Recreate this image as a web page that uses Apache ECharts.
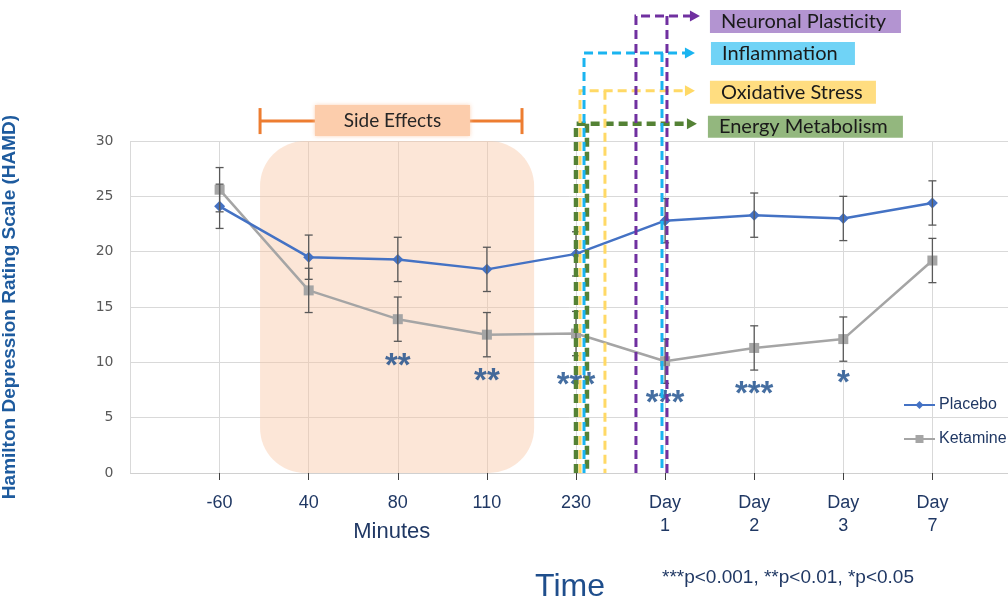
<!DOCTYPE html>
<html><head><meta charset="utf-8">
<script src="https://cdn.jsdelivr.net/npm/echarts@6/dist/echarts.min.js"></script>
<style>html,body{margin:0;padding:0;background:#fff}#c{width:1008px;height:601px}</style>
</head><body><div id="c"></div>
<script>
// ---- data ----
const categories = ['-60','40','80','110','230','Day\n1','Day\n2','Day\n3','Day\n7'];
const yTicks = [0,5,10,15,20,25,30];
const placebo  = [24.1,19.5,19.3,18.4,19.8,22.8,23.3,23.0,24.4];
const ketamine = [25.6,16.5,13.9,12.5,12.6,10.1,11.3,12.1,19.2];
const placeboErr  = [2,2,2,2,2,2,2,2,2];
const ketamineErr = [2,2,2,2,2,2,2,2,2];
const starCats   = ['80','110','230','Day\n1','Day\n2','Day\n3'];
const starTexts  = ['**','**','***','***','***','*'];
const starValues = [9.62,8.27,7.91,6.28,7.09,8.09];

// ---- build ----
const axisData = [' '].concat(categories, ['  ']);
const idx = c => axisData.indexOf(c);
const FONT = "'Liberation Sans', Arial, sans-serif";

function errSeries(name, vals, errs, color) {
  return {
    name: name, type: 'custom', z: 6, silent: true,
    data: vals.map((v, i) => [i + 1, v - errs[i], v + errs[i]]),
    encode: { x: 0, y: [1, 2] },
    renderItem: (params, api) => {
      const x = api.value(0);
      const lo = api.coord([x, api.value(1)]);
      const hi = api.coord([x, api.value(2)]);
      const w = 4, st = { stroke: color, lineWidth: 1.3 };
      return { type: 'group', children: [
        { type: 'line', shape: { x1: lo[0], y1: lo[1], x2: hi[0], y2: hi[1] }, style: st },
        { type: 'line', shape: { x1: lo[0]-w, y1: lo[1], x2: lo[0]+w, y2: lo[1] }, style: st },
        { type: 'line', shape: { x1: hi[0]-w, y1: hi[1], x2: hi[0]+w, y2: hi[1] }, style: st }
      ]};
    }
  };
}

const chart = echarts.init(document.getElementById('c'), null, { renderer: 'canvas' });
chart.setOption({
  animation: false,
  backgroundColor: '#fff',
  grid: { left: 130.5, top: 141, bottom: 128, right: -13.5, containLabel: false, outerBoundsMode: 'none' },
  legend: {
    data: ['Placebo', 'Ketamine'], orient: 'vertical', left: 903, top: 397, padding: 0,
    itemWidth: 31, itemHeight: 10, itemGap: 18,
    textStyle: { fontFamily: FONT, fontSize: 16, color: '#203864', padding: [0,0,0,-1] }
  },
  xAxis: {
    type: 'category', data: axisData, boundaryGap: false,
    axisLine: { lineStyle: { color: '#d0d0d0', width: 1 } },
    axisTick: { show: true, length: 7, lineStyle: { color: '#404040' }, interval: (i) => i > 0 && i < axisData.length - 1 },
    axisLabel: { interval: 0, margin: 19, fontFamily: FONT, fontSize: 18, color: '#203864', lineHeight: 23 },
    splitLine: { show: true, interval: 0, lineStyle: { color: '#d9d9d9', width: 1 } }
  },
  yAxis: {
    type: 'value', min: yTicks[0], max: yTicks[yTicks.length-1], interval: yTicks[1]-yTicks[0],
    name: 'Hamilton Depression Rating Scale (HAMD)', nameLocation: 'middle', nameGap: 111, nameRotate: 90,
    nameTextStyle: { fontFamily: FONT, fontSize: 19, fontWeight: 'bold', color: '#1e5b9e' },
    axisLine: { show: false }, axisTick: { show: false },
    axisLabel: { margin: 17, fontFamily: "'DejaVu Sans', sans-serif", fontSize: 14, color: '#595959' },
    splitLine: { lineStyle: { color: '#d9d9d9', width: 1 } }
  },
  series: [
    { name: 'Placebo', type: 'line', z: 4, data: placebo.map((v, i) => [i + 1, v]),
      symbol: 'diamond', symbolSize: 11, lineStyle: { color: '#4472c4', width: 2.5 },
      itemStyle: { color: '#4472c4' } },
    { name: 'Ketamine', type: 'line', z: 3, data: ketamine.map((v, i) => [i + 1, v]),
      symbol: 'rect', symbolSize: 10, lineStyle: { color: '#a5a5a5', width: 2.5 },
      itemStyle: { color: '#a5a5a5' } },
    errSeries('errP', placebo, placeboErr, '#595959'),
    errSeries('errK', ketamine, ketamineErr, '#595959'),
    { name: 'stars', type: 'scatter', z: 7, symbolSize: 0, silent: true,
      data: starCats.map((c, i) => ({ value: [idx(c), starValues[i]], label: { formatter: starTexts[i] } })),
      label: { show: true, position: 'inside', fontFamily: FONT, fontSize: 33, fontWeight: 'bold', color: '#174a8a' } }
  ]
});

// ---- annotations (positioned through the axes) ----
const X = v => chart.convertToPixel({ xAxisIndex: 0 }, 0) + v * (chart.convertToPixel({ xAxisIndex: 0 }, 1) - chart.convertToPixel({ xAxisIndex: 0 }, 0));
const Y = v => chart.convertToPixel({ yAxisIndex: 0 }, 0) + v * (chart.convertToPixel({ yAxisIndex: 0 }, 1) - chart.convertToPixel({ yAxisIndex: 0 }, 0));

const connectors = [
  { xa: 5.000, xb: 5.123, top: 31.57, tip: 6.357, color: '#548235', w: 4.5, label: 'Energy Metabolism',   fill: '#93b77e', bw: 195, gap: 11, dy: 3,   bh: 22 },
  { xa: 5.045, xb: 5.325, top: 34.55, tip: 6.335, color: '#ffd966', w: 3,   label: 'Oxidative Stress',    fill: '#ffdd80', bw: 166, gap: 15, dy: 1.5, bh: 23 },
  { xa: 5.090, xb: 5.965, top: 37.95, tip: 6.335, color: '#1ab4f0', w: 3,   label: 'Inflammation',        fill: '#70d3f6', bw: 144, gap: 16, dy: 0.5, bh: 23 },
  { xa: 5.673, xb: 6.021, top: 41.29, tip: 6.391, color: '#7030a0', w: 3,   label: 'Neuronal Plasticity', fill: '#b394d1', bw: 191, gap: 10, dy: 5.5, bh: 23 }
];
const g = [];
// peach side-effects area
const rx0 = X(1.454), rx1 = X(4.53), ry0 = Y(30), ry1 = Y(0);
g.push({ type: 'rect', z: 1, shape: { x: rx0, y: ry0, width: rx1 - rx0, height: ry1 - ry0, r: 45 },
  style: { fill: 'rgba(247,196,160,0.42)' } });
// bracket
const by = Y(31.8), bl = X(1.454), br = X(4.394);
const orange = { stroke: '#ed7d31', lineWidth: 3 };
g.push({ type: 'line', z: 50, shape: { x1: bl, y1: by - 13, x2: bl, y2: by + 13 }, style: orange });
g.push({ type: 'line', z: 50, shape: { x1: br, y1: by - 13, x2: br, y2: by + 13 }, style: orange });
g.push({ type: 'line', z: 50, shape: { x1: bl, y1: by, x2: br, y2: by }, style: orange });
const sbx0 = X(2.07), sbx1 = X(3.81);
g.push({ type: 'rect', z: 51, shape: { x: sbx0, y: by - 16, width: sbx1 - sbx0, height: 31 },
  style: { fill: '#fccdac', shadowBlur: 4, shadowColor: 'rgba(252,205,172,0.9)' } });
g.push({ type: 'text', z: 52, x: (sbx0 + sbx1) / 2, y: by, style: { text: 'Side Effects', fontFamily: "Lato, sans-serif", fontSize: 19, fill: '#262626', align: 'center', verticalAlign: 'middle' } });

connectors.forEach(c => {
  const xa = X(c.xa), xb = X(c.xb), yt = Y(c.top), yb = Y(0), tip = X(c.tip);
  const st = { stroke: c.color, lineWidth: c.w, lineDash: [9, 5], fill: null };
  g.push({ type: 'polyline', z: 40, shape: { points: [[xa, yb], [xa, yt], [tip - 8, yt]] }, style: st });
  g.push({ type: 'line', z: 40, shape: { x1: xb, y1: yt, x2: xb, y2: yb }, style: st });
  g.push({ type: 'polygon', z: 41, shape: { points: [[tip, yt], [tip - 10, yt - 5.5], [tip - 10, yt + 5.5]] }, style: { fill: c.color } });
  const bx = tip + c.gap, cy = yt + c.dy;
  g.push({ type: 'rect', z: 42, shape: { x: bx, y: cy - c.bh / 2, width: c.bw, height: c.bh }, style: { fill: c.fill } });
  g.push({ type: 'text', z: 43, x: bx + 11, y: cy, style: { text: c.label, fontFamily: "Lato, sans-serif", fontSize: 20, fill: '#1a1a1a', verticalAlign: 'middle' } });
});

// axis group titles and footnote
g.push({ type: 'text', z: 60, x: X(3.0) - 6, y: 532, style: { text: 'Minutes', fontFamily: FONT, fontSize: 22, fill: '#203864', align: 'center', verticalAlign: 'middle' } });
g.push({ type: 'text', z: 60, x: 570, y: 587, style: { text: 'Time', fontFamily: FONT, fontSize: 32, fill: '#1f4e8c', align: 'center', verticalAlign: 'middle' } });
g.push({ type: 'text', z: 60, x: 662, y: 578, style: { text: '***p<0.001, **p<0.01, *p<0.05', fontFamily: FONT, fontSize: 19, fill: '#203864', verticalAlign: 'middle' } });

chart.setOption({ graphic: { elements: g } });
</script></body></html>
